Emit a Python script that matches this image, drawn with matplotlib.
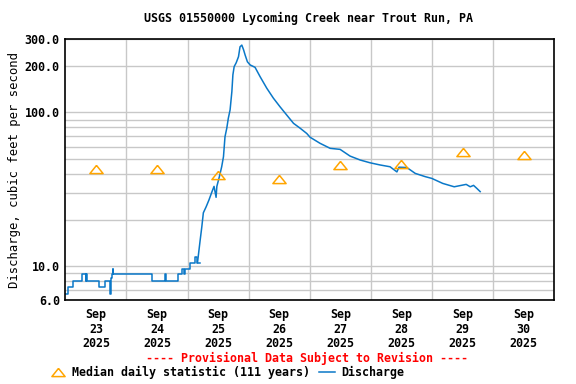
import matplotlib
matplotlib.use("Agg")
import matplotlib.pyplot as plt
from matplotlib.lines import Line2D
import pandas as pd

# datos
inicio = pd.Timestamp("2025-09-23 00:00")
horas = [0, 1.2, 3.15, 6.7, 8.0, 8.3, 8.65, 13.4, 15.7, 17.3, 17.5, 17.8, 18.3, 18.6, 18.9,
         33.7, 34.1, 38.8, 39.2, 39.6, 44.0, 44.4, 45.7, 46.5, 47.0, 49.0, 50.9, 51.9, 52.9,
         53.6, 54.2, 55.3, 56.4, 57.6, 58.4, 59.2, 59.5, 60.5, 61.4, 62.1, 62.7, 63.4, 64.0,
         64.7, 65.4, 65.8, 66.3, 67.1, 68.0, 68.6, 69.3, 70.0, 70.6, 71.5, 72.6, 74.5, 76.5,
         79.1, 81.7, 84.3, 87.0, 89.6, 92.2, 94.8, 96.1, 100.0, 104.0, 107.9, 111.8, 115.8,
         119.7, 123.6, 127.5, 130.2, 131.0, 134.1, 137.4, 141.3, 143.9, 148.2, 152.7, 157.4,
         159.0, 160.3, 161.6, 162.9]
caudal = [6.6, 7.3, 8.0, 8.8, 8.0, 8.8, 8.0, 7.3, 8.0, 8.0, 6.6, 8.4, 8.8, 9.6, 8.8,
          8.8, 8.0, 8.0, 8.8, 8.0, 8.0, 8.8, 9.6, 8.8, 9.6, 10.5, 11.5, 10.5, 14.5,
          18.0, 22.2, 24.3, 26.9, 30.5, 33.0, 28.0, 33.0, 38.2, 44.3, 51.5, 69.5, 79.0, 91.6,
          104, 137, 176, 199, 211, 231, 268, 275, 256, 237, 214, 204, 197, 171,
          144, 124, 109, 96, 85, 79, 73, 69, 63, 58.4, 57.5, 52, 49,
          47, 45.5, 44.3, 41, 44, 43.8, 40.1, 38.2, 37.2, 34.5, 32.8, 34,
          32.8, 33.5, 32, 30.5]

dias_mediana = pd.date_range("2025-09-23 12:00", periods=8, freq="D")
mediana = [43, 43, 39.4, 37.1, 45.3, 46.5, 55, 53]

tiempos = [inicio + pd.Timedelta(hours=h) for h in horas]
corte = 28  # hasta aqui el caudal bajo va en escalones

plt.rcParams['font.family'] = ['DejaVu Sans Mono']
plt.rcParams['font.weight'] = 'bold'
plt.rcParams['font.size'] = 8.4

azul = '#0a78c8'
naranja = '#ffa500'

fig = plt.figure(figsize=(5.76, 3.84), dpi=100)
ax = fig.add_axes([0.1134, 0.2188, 0.8489, 0.6789])

ax.step(tiempos[:corte + 1], caudal[:corte] + [caudal[corte - 1]], where='post', color=azul, lw=1.1)
ax.plot(tiempos[corte - 1:], caudal[corte - 1:], color=azul, lw=1.1)

triangulo = [(0, 0.62), (-1, -0.62), (1, -0.62), (0, 0.62)]
ax.plot(dias_mediana, mediana, linestyle='none', marker=triangulo, markersize=9.5,
        markerfacecolor='none', markeredgecolor=naranja, markeredgewidth=1.1)

ax.set_yscale('log')
ax.set_ylim(6, 300)
ax.set_xlim(inicio, pd.Timestamp("2025-10-01 00:00"))

ax.set_yticks([6, 10, 100, 200, 300])
ax.set_yticklabels(['6.0', '10.0', '100.0', '200.0', '300.0'])
ax.set_yticks([7, 8, 9, 20, 30, 40, 50, 60, 70, 80, 90], minor=True)
ax.yaxis.set_minor_formatter(plt.NullFormatter())

ax.set_xticks(pd.date_range("2025-09-24", periods=7, freq="D"), minor=True)
ax.set_xticks(dias_mediana)
ax.set_xticklabels([d.strftime("Sep\n%d\n%Y") for d in dias_mediana], linespacing=1.15)

ax.grid(which='major', axis='y', color='#c8c8c8', lw=1)
ax.grid(which='minor', color='#c8c8c8', lw=1)
ax.set_axisbelow(True)
ax.tick_params(which='both', length=0, pad=4)
ax.tick_params(axis='x', pad=6)
for s in ax.spines.values():
    s.set_linewidth(1.2)

ax.set_ylabel("Discharge, cubic feet per second", labelpad=3, fontsize=8.8)
fig.text(0.535, 0.952, "USGS 01550000 Lycoming Creek near Trout Run, PA", ha='center', va='center')
fig.text(0.533, 0.066, "---- Provisional Data Subject to Revision ----", ha='center', va='center',
         color='red')

h1 = Line2D([], [], linestyle='none', marker=triangulo, markersize=9.5, markerfacecolor='none',
            markeredgecolor=naranja, markeredgewidth=1.1)
h2 = Line2D([], [], color=azul, lw=1.1)
fig.legend([h1, h2], ["Median daily statistic (111 years)", "Discharge"], ncol=2, frameon=False,
           loc='center left', bbox_to_anchor=(0.086, 0.03), handlelength=1.4, handletextpad=0.5,
           columnspacing=0.8, borderaxespad=0, borderpad=0)

fig.savefig("out.png", dpi=100)
